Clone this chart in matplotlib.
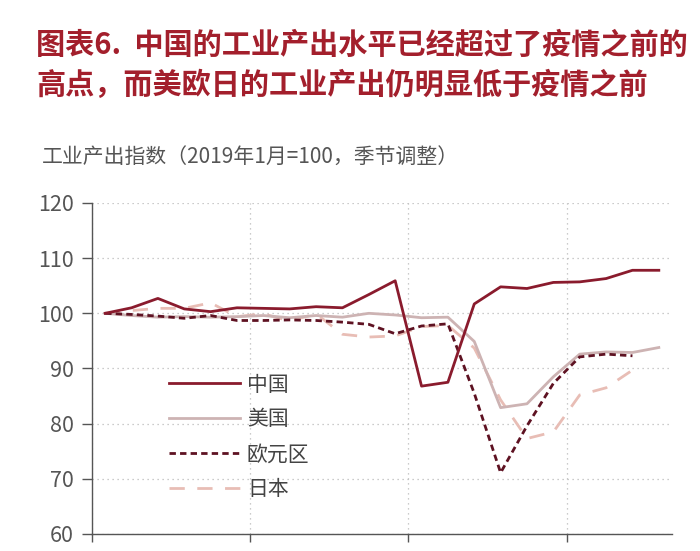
import matplotlib
matplotlib.use("Agg")
import matplotlib.pyplot as plt
from matplotlib.ticker import FixedLocator

plt.rcParams['font.family'] = ['Noto Sans CJK SC', 'DejaVu Sans']

title_line1 = "图表6.  中国的工业产出水平已经超过了疫情之前的"
title_line2 = "高点，而美欧日的工业产出仍明显低于疫情之前"
subtitle = "工业产出指数（2019年1月=100，季节调整）"

months = ["2019-01", "2019-02", "2019-03", "2019-04", "2019-05", "2019-06",
          "2019-07", "2019-08", "2019-09", "2019-10", "2019-11", "2019-12",
          "2020-01", "2020-02", "2020-03", "2020-04", "2020-05", "2020-06",
          "2020-07", "2020-08", "2020-09", "2020-10"]

china = [100.0, 101.0, 102.7, 100.8, 100.3, 101.0, 100.9, 100.8, 101.2, 101.0,
         103.4, 105.9, 86.8, 87.5, 101.7, 104.8, 104.5, 105.6, 105.7, 106.3,
         107.8, 107.8]
usa = [100.0, 99.6, 99.3, 99.4, 99.3, 99.4, 99.6, 99.2, 99.6, 99.3, 100.0,
       99.7, 99.2, 99.3, 94.9, 82.9, 83.6, 88.5, 92.6, 93.0, 92.9, 93.8]
euro = [100.0, 99.8, 99.5, 99.1, 99.6, 98.7, 98.7, 98.8, 98.7, 98.4, 98.0,
        96.3, 97.7, 98.1, 85.5, 71.1, 79.6, 87.3, 92.1, 92.6, 92.3]
japan = [100.0, 100.5, 100.9, 100.9, 101.9, 99.4, 99.9, 98.6, 99.9, 96.2, 95.7,
         95.9, 97.6, 97.8, 93.7, 84.3, 77.3, 78.5, 85.2, 86.5, 89.7]

names = ["中国", "美国", "欧元区", "日本"]
yticks = [60, 70, 80, 90, 100, 110, 120]

fig = plt.figure(figsize=(7.0, 5.51), dpi=100)
fig.patch.set_facecolor("white")

title_color = "#A31F2C"
fig.text(0.052, 0.918, title_line1, fontsize=21, fontweight="bold",
         color=title_color, ha="left", va="center")
fig.text(0.052, 0.846, title_line2, fontsize=21, fontweight="bold",
         color=title_color, ha="left", va="center")
fig.text(0.060, 0.716, subtitle, fontsize=15, color="#555555",
         ha="left", va="center")

ax = fig.add_axes([0.1314, 0.0309, 0.8286, 0.6007])
x = list(range(len(months)))

c_china = "#8A1B2D"
c_us = "#CDB3B3"
c_euro = "#5E1222"
c_japan = "#E8BDB5"

ax.plot(x[:len(japan)], japan, color=c_japan, lw=2.0, dashes=(5.5, 4.5), label=names[3], zorder=2)
ax.plot(x[:len(usa)], usa, color=c_us, lw=2.0, label=names[1], zorder=3)
ax.plot(x[:len(euro)], euro, color=c_euro, lw=2.0, dashes=(2.3, 1.5), label=names[2], zorder=4)
ax.plot(x[:len(china)], china, color=c_china, lw=2.0, label=names[0], zorder=5)

ax.set_xlim(-0.5, len(months) - 0.5)
ax.set_ylim(60, 120)
ax.set_yticks(yticks)
ax.xaxis.set_major_locator(FixedLocator([-0.5, 5.5, 11.5, 17.5]))
ax.set_xticklabels([])

for s in ["top", "right"]:
    ax.spines[s].set_visible(False)
for s in ["left", "bottom"]:
    ax.spines[s].set_color("#555555")
    ax.spines[s].set_linewidth(1.0)

ax.tick_params(axis="y", colors="#555555", labelsize=15.5, length=7, width=1, pad=6)
ax.tick_params(axis="x", colors="#555555", length=6, width=1)
for lab in ax.get_yticklabels():
    lab.set_color("#555555")

ax.grid(True, which="major", axis="both", color="#BBBBBB", linestyle=(0, (1, 3)), lw=0.9)
ax.set_axisbelow(True)

handles, labels = ax.get_legend_handles_labels()
order = [labels.index(n) for n in names]
leg = ax.legend([handles[i] for i in order], [labels[i] for i in order],
                loc="upper left", bbox_to_anchor=(0.118, 0.51), frameon=False,
                fontsize=15, handlelength=3.4, handletextpad=0.35,
                labelspacing=0.62, borderaxespad=0)
for t in leg.get_texts():
    t.set_color("#444444")

fig.savefig("out.png", dpi=100, facecolor="white")
